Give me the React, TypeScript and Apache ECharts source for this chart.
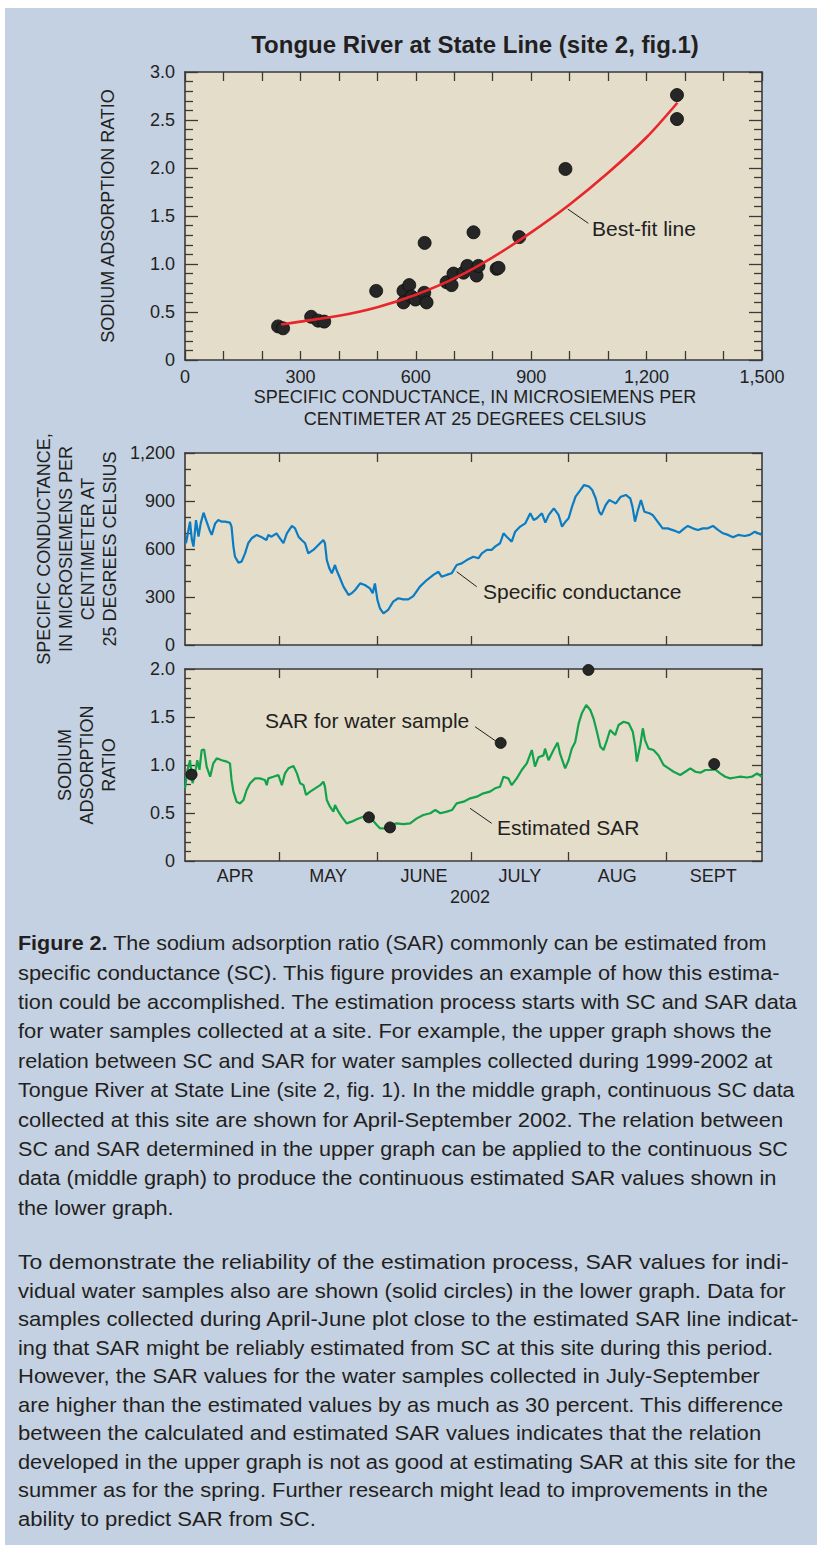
import React, { useEffect, useRef } from "react";
import * as echarts from "echarts";

// ---------- DATA ----------
// Upper graph: water samples 1999-2002 (specific conductance, SAR)
const SAMPLE_SC = [242, 255, 328, 346, 362, 497, 568, 568, 583, 589, 599, 622, 623, 628, 680, 693, 698, 724, 734, 750, 758, 763, 810, 815, 869, 989, 1279, 1279];
const SAMPLE_SAR = [0.35, 0.33, 0.45, 0.41, 0.4, 0.72, 0.72, 0.6, 0.78, 0.66, 0.63, 0.7, 1.22, 0.6, 0.81, 0.78, 0.9, 0.91, 0.98, 1.33, 0.88, 0.98, 0.95, 0.96, 1.28, 1.99, 2.76, 2.51];
// Best-fit line
const FIT_SC = [250, 300, 400, 500, 600, 700, 800, 900, 1000, 1100, 1200, 1280];
const FIT_SAR = [0.37, 0.4, 0.46, 0.55, 0.68, 0.85, 1.07, 1.33, 1.62, 1.95, 2.32, 2.68];

// Middle graph: continuous specific conductance, days since April 1, 2002
const SC_DAYS = [0.3, 1.1, 1.6, 2.2, 2.7, 3.5, 4.3, 5.0, 5.9, 6.7, 7.8, 8.5, 9.6, 10.6, 11.7, 12.7, 14.3, 14.8, 15.4, 15.9, 17.0, 18.0, 19.1, 20.1, 21.2, 22.8, 24.4, 25.9, 26.5, 27.5, 29.1, 30.2, 31.3, 32.4, 34.0, 35.0, 36.1, 37.1, 38.2, 39.2, 40.8, 42.4, 44.0, 44.5, 45.1, 45.9, 46.7, 47.7, 48.2, 49.3, 50.4, 52.0, 53.0, 54.1, 55.7, 57.2, 58.8, 59.7, 60.4, 61.2, 62.0, 63.1, 64.6, 66.2, 67.8, 69.4, 71.0, 72.6, 74.7, 76.9, 79.0, 80.6, 81.6, 83.2, 84.8, 86.4, 88.0, 89.6, 91.7, 93.3, 94.4, 96.0, 97.5, 98.6, 100.2, 101.3, 102.3, 103.9, 105.0, 106.6, 108.2, 109.8, 110.9, 111.9, 113.5, 114.6, 115.7, 117.3, 118.8, 119.9, 121.0, 122.0, 123.1, 124.2, 125.8, 126.9, 128.5, 129.5, 130.6, 131.7, 132.4, 133.8, 134.9, 135.9, 137.0, 138.6, 140.2, 141.6, 142.3, 143.1, 143.9, 145.0, 146.1, 147.7, 148.7, 150.3, 151.9, 153.5, 155.6, 157.2, 158.8, 159.9, 161.5, 163.1, 164.7, 166.3, 167.9, 169.5, 171.1, 172.7, 174.3, 175.9, 178.0, 179.6, 181.2, 182.3, 183.5];
const SC_VALUES = [636, 719, 771, 656, 615, 781, 677, 760, 827, 781, 719, 688, 760, 781, 771, 771, 765, 740, 615, 552, 515, 521, 573, 636, 667, 688, 673, 656, 688, 677, 698, 667, 636, 698, 744, 729, 677, 656, 636, 573, 594, 625, 656, 636, 531, 479, 448, 500, 469, 417, 365, 313, 323, 344, 385, 375, 354, 323, 385, 281, 229, 198, 219, 271, 292, 285, 285, 306, 365, 406, 438, 458, 427, 438, 448, 500, 510, 531, 552, 542, 573, 594, 594, 615, 636, 698, 677, 646, 708, 740, 760, 823, 781, 792, 823, 765, 813, 854, 813, 740, 771, 792, 865, 927, 969, 1000, 990, 969, 917, 833, 813, 875, 906, 896, 885, 927, 938, 917, 865, 771, 833, 906, 833, 823, 813, 771, 729, 729, 715, 702, 729, 744, 729, 719, 729, 729, 744, 719, 698, 688, 673, 688, 681, 688, 708, 698, 688];

// Lower graph: estimated SAR, days since April 1, 2002
const EST_DAYS = [0, 0.8, 1.6, 2.4, 3.2, 3.9, 4.6, 5.3, 6.1, 6.9, 8.0, 9.0, 10.1, 11.7, 13.3, 14.3, 14.8, 15.4, 16.4, 17.5, 18.6, 19.6, 20.7, 22.3, 23.8, 25.4, 26.0, 26.5, 28.1, 29.7, 30.8, 31.8, 32.9, 34.5, 35.6, 36.6, 37.7, 38.5, 39.8, 41.4, 43.0, 44.0, 44.5, 45.1, 46.1, 47.2, 47.7, 48.8, 49.8, 51.4, 53.0, 54.6, 56.7, 57.8, 59.4, 61.0, 62.0, 63.6, 65.2, 67.3, 69.4, 71.6, 73.7, 75.8, 78.0, 79.6, 81.2, 83.3, 84.9, 86.4, 88.6, 90.7, 92.8, 94.9, 97.0, 98.6, 100.2, 101.3, 102.8, 103.9, 105.5, 107.1, 108.7, 110.3, 111.3, 112.4, 114.0, 114.5, 115.6, 117.2, 118.5, 119.3, 120.9, 122.0, 123.0, 124.1, 125.2, 126.2, 127.6, 128.9, 129.9, 131.0, 132.1, 133.1, 134.2, 135.2, 136.8, 137.9, 139.5, 141.1, 142.4, 143.2, 143.7, 144.8, 145.6, 146.3, 147.4, 149.0, 150.6, 152.2, 153.8, 155.4, 157.5, 159.1, 160.7, 162.3, 163.9, 165.5, 167.0, 168.6, 170.2, 171.8, 173.4, 175.0, 176.6, 178.7, 180.3, 181.9, 183.5];
const EST_SAR = [0.757, 0.948, 1.05, 0.81, 0.91, 1.05, 0.95, 1.156, 1.16, 0.98, 0.878, 1.017, 1.07, 1.05, 1.035, 1.017, 0.844, 0.722, 0.618, 0.6, 0.635, 0.74, 0.81, 0.861, 0.861, 0.844, 0.79, 0.861, 0.878, 0.896, 0.79, 0.913, 0.965, 0.99, 0.913, 0.81, 0.79, 0.688, 0.722, 0.757, 0.79, 0.826, 0.774, 0.635, 0.566, 0.514, 0.583, 0.514, 0.462, 0.392, 0.41, 0.434, 0.462, 0.462, 0.434, 0.375, 0.34, 0.34, 0.375, 0.392, 0.385, 0.392, 0.444, 0.479, 0.497, 0.531, 0.497, 0.514, 0.531, 0.6, 0.618, 0.653, 0.67, 0.705, 0.722, 0.757, 0.774, 0.878, 0.861, 0.79, 0.861, 0.948, 1.017, 1.156, 0.983, 1.08, 1.1, 1.17, 1.05, 1.156, 1.233, 1.115, 0.965, 1.05, 1.17, 1.24, 1.434, 1.538, 1.625, 1.573, 1.486, 1.347, 1.19, 1.156, 1.26, 1.365, 1.312, 1.417, 1.451, 1.434, 1.347, 1.19, 1.035, 1.208, 1.382, 1.26, 1.17, 1.156, 1.1, 1.0, 0.965, 0.93, 0.896, 0.93, 0.965, 0.93, 0.92, 0.948, 0.948, 0.955, 0.913, 0.878, 0.861, 0.87, 0.878, 0.87, 0.878, 0.913, 0.878];

// Lower graph: SAR for individual water samples
const WS_DAYS = [2.1, 58.5, 65.2, 100.4, 128.3, 168.3];
const WS_SAR = [0.9, 0.455, 0.35, 1.23, 1.99, 1.01];

// Axis ticks / labels
const TOP_Y_MAX = 3;
const TOP_X_MAX = 1500;
const SC_Y_MAX = 1200;
const SAR_Y_MAX = 2;
const MONTH_STARTS = [0, 30, 61, 91, 122, 153, 183];
const MONTH_LABELS = ["APR", "MAY", "JUNE", "JULY", "AUG", "SEPT"];
const DAY_MAX = 183.5;

const TITLE = "Tongue River at State Line (site 2, fig.1)";
const CAPTION_BOLD = "Figure 2.";
const CAPTION_P1 = [
  " The sodium adsorption ratio (SAR) commonly can be estimated from",
  "specific conductance (SC). This figure provides an example of how this estima-",
  "tion could be accomplished. The estimation process starts with SC and SAR data",
  "for water samples collected at a site. For example, the upper graph shows the",
  "relation between SC and SAR for water samples collected during 1999-2002 at",
  "Tongue River at State Line (site 2, fig. 1). In the middle graph, continuous SC data",
  "collected at this site are shown for April-September 2002. The relation between",
  "SC and SAR determined in the upper graph can be applied to the continuous SC",
  "data (middle graph) to produce the continuous estimated SAR values shown in",
  "the lower graph.",
];
const CAPTION_P2 = [
  "To demonstrate the reliability of the estimation process, SAR values for indi-",
  "vidual water samples also are shown (solid circles) in the lower graph. Data for",
  "samples collected during April-June plot close to the estimated SAR line indicat-",
  "ing that SAR might be reliably estimated from SC at this site during this period.",
  "However, the SAR values for the water samples collected in July-September",
  "are higher than the estimated values by as much as 30 percent. This difference",
  "between the calculated and estimated SAR values indicates that the relation",
  "developed in the upper graph is not as good at estimating SAR at this site for the",
  "summer as for the spring. Further research might lead to improvements in the",
  "ability to predict SAR from SC.",
];

// ---------- STYLE / LAYOUT ----------
const W = 817;
const H = 1545;
const INK = "#231f20";
const AXIS = "#3b3838";
const PANEL = "#c4d1e2";
const PLOT_BG = "#e4ddca";
const SANS = "'Liberation Sans', Arial, Helvetica, sans-serif";
const BODY = "'Liberation Sans', Arial, sans-serif";
const GRID_LEFT = 185;
const GRID_W = 577;

const P1_RIGHT = [767, 781, 798, 772, 773, 795, 785, 788, 777, 0];
const P2_RIGHT = [789, 786, 800, 774, 760, 784, 762, 797, 768, 0];

let measureCtx: CanvasRenderingContext2D | null = null;
function measure(text: string, font: string): number {
  if (!measureCtx) measureCtx = document.createElement("canvas").getContext("2d");
  measureCtx!.font = font;
  return measureCtx!.measureText(text).width;
}

function captionElements(): any[] {
  const els: any[] = [];
  const x0 = 18;
  const fs = 20;
  const fontN = `${fs}px ${BODY}`;
  const fontB = `bold ${fs}px ${BODY}`;
  const build = (lines: string[], rights: number[], y0: number, step: number, boldFirst: boolean) => {
    const widths = lines.map((t, i) =>
      i === 0 && boldFirst ? measure(CAPTION_BOLD, fontB) + measure(t, fontN) : measure(t, fontN)
    );
    const scales = widths.map((w, i) => (rights[i] ? (rights[i] - x0) / w : 0));
    const valid = scales.filter((s) => s > 0);
    const avg = valid.reduce((a, b) => a + b, 0) / valid.length;
    lines.forEach((t, i) => {
      const isRich = i === 0 && boldFirst;
      els.push({
        type: "text",
        x: x0,
        y: y0 + step * i,
        scaleX: scales[i] || avg,
        z: 100,
        style: {
          text: isRich ? `{b|${CAPTION_BOLD}}{n|${t}}` : t,
          fill: INK,
          fontSize: fs,
          fontFamily: BODY,
          align: "left",
          verticalAlign: "middle",
          rich: isRich
            ? {
                b: { fontWeight: "bold", fontSize: fs, fontFamily: BODY, fill: INK },
                n: { fontSize: fs, fontFamily: BODY, fill: INK },
              }
            : undefined,
        },
      });
    });
  };
  build(CAPTION_P1, P1_RIGHT, 943, 29.4, true);
  build(CAPTION_P2, P2_RIGHT, 1262, 28.5, false);
  return els;
}

function text(x: number, y: number, t: string, extra: any = {}, rot = 0): any {
  return {
    type: "text",
    x,
    y,
    rotation: rot,
    z: 100,
    style: {
      text: t,
      fill: INK,
      fontSize: 18,
      fontFamily: SANS,
      align: "center",
      verticalAlign: "middle",
      ...extra,
    },
  };
}

function leader(x1: number, y1: number, x2: number, y2: number): any {
  return {
    type: "line",
    z: 100,
    shape: { x1, y1, x2, y2 },
    style: { stroke: INK, lineWidth: 1 },
  };
}

const AL = { show: true, onZero: false, lineStyle: { color: AXIS, width: 1.6 } };
const TL = { color: AXIS, width: 1.3 };
const LABEL = { color: INK, fontSize: 18, fontFamily: SANS };

function xVal(grid: number, pos: string, max: number, interval: number, split: number, showLabel: boolean, fmt?: any): any {
  return {
    gridIndex: grid,
    type: "value",
    position: pos,
    min: 0,
    max,
    interval,
    axisLine: AL,
    axisTick: { show: true, inside: true, length: 9, lineStyle: TL },
    minorTick: { show: true, splitNumber: split, length: 9, lineStyle: TL },
    axisLabel: showLabel ? { ...LABEL, margin: 8, formatter: fmt } : { show: false },
    splitLine: { show: false },
  };
}

function xTime(grid: number, pos: string, showLabel: boolean): any {
  const mids = MONTH_STARTS.slice(0, -1).map((s, i) => (s + MONTH_STARTS[i + 1]) / 2 + (i === 0 ? 1 : 0));
  return {
    gridIndex: grid,
    type: "value",
    position: pos,
    min: 0,
    max: DAY_MAX,
    axisLine: AL,
    axisTick: { show: true, inside: true, length: 9, lineStyle: TL, customValues: MONTH_STARTS.slice(1, -1) },
    axisLabel: showLabel
      ? {
          ...LABEL,
          margin: 6,
          customValues: mids,
          formatter: (v: number) => MONTH_LABELS[mids.indexOf(v)] ?? "",
        }
      : { show: false },
    splitLine: { show: false },
  };
}

function yVal(grid: number, pos: string, max: number, interval: number, split: number, majorLen: number, minorLen: number, showLabel: boolean, fmt?: any): any {
  return {
    gridIndex: grid,
    type: "value",
    position: pos,
    min: 0,
    max,
    interval,
    axisLine: AL,
    axisTick: { show: true, inside: true, length: majorLen, lineStyle: TL },
    minorTick: { show: true, splitNumber: split, length: minorLen, lineStyle: TL },
    axisLabel: showLabel ? { ...LABEL, margin: 10, formatter: fmt } : { show: false },
    splitLine: { show: false },
  };
}

const fmtRatio = (v: number) => (v === 0 ? "0" : v.toFixed(1));
const fmtThousands = (v: number) => v.toLocaleString("en-US");
const DOT_STYLE = { color: "#262626", borderColor: "#0d0d0d", borderWidth: 0.8, opacity: 1 };

function buildOption(): any {
  return {
    animation: false,
    backgroundColor: PANEL,
    textStyle: { fontFamily: SANS },
    grid: [
      { left: GRID_LEFT, top: 72, width: GRID_W, height: 288, show: true, backgroundColor: PLOT_BG, borderWidth: 0 },
      { left: GRID_LEFT, top: 453, width: GRID_W, height: 192, show: true, backgroundColor: PLOT_BG, borderWidth: 0 },
      { left: GRID_LEFT, top: 669, width: GRID_W, height: 192, show: true, backgroundColor: PLOT_BG, borderWidth: 0 },
    ],
    xAxis: [
      xVal(0, "bottom", TOP_X_MAX, 300, 3, true, fmtThousands),
      xVal(0, "top", TOP_X_MAX, 300, 3, false),
      xTime(1, "bottom", false),
      xTime(1, "top", false),
      xTime(2, "bottom", true),
      xTime(2, "top", false),
    ],
    yAxis: [
      yVal(0, "left", TOP_Y_MAX, 0.5, 5, 13, 8, true, fmtRatio),
      yVal(0, "right", TOP_Y_MAX, 0.5, 5, 13, 8, false),
      yVal(1, "left", SC_Y_MAX, 300, 3, 10, 6, true, fmtThousands),
      yVal(1, "right", SC_Y_MAX, 300, 3, 10, 6, false),
      yVal(2, "left", SAR_Y_MAX, 0.5, 5, 10, 6, true, fmtRatio),
      yVal(2, "right", SAR_Y_MAX, 0.5, 5, 10, 6, false),
    ],
    series: [
      {
        type: "scatter",
        xAxisIndex: 0,
        yAxisIndex: 0,
        data: SAMPLE_SC.map((x, i) => [x, SAMPLE_SAR[i]]),
        symbol: "circle",
        symbolSize: 13,
        itemStyle: DOT_STYLE,
        z: 3,
      },
      {
        type: "line",
        xAxisIndex: 0,
        yAxisIndex: 0,
        data: FIT_SC.map((x, i) => [x, FIT_SAR[i]]),
        smooth: 0.3,
        showSymbol: false,
        lineStyle: { color: "#e8262b", width: 2.6 },
        z: 4,
      },
      {
        type: "line",
        xAxisIndex: 2,
        yAxisIndex: 2,
        data: SC_DAYS.map((d, i) => [d, SC_VALUES[i]]),
        showSymbol: false,
        lineStyle: { color: "#0a7cc4", width: 2.2 },
        z: 3,
      },
      {
        type: "line",
        xAxisIndex: 4,
        yAxisIndex: 4,
        data: EST_DAYS.map((d, i) => [d, EST_SAR[i]]),
        showSymbol: false,
        lineStyle: { color: "#13a24c", width: 2.2 },
        z: 3,
      },
      {
        type: "scatter",
        xAxisIndex: 4,
        yAxisIndex: 4,
        data: WS_DAYS.map((d, i) => [d, WS_SAR[i]]),
        symbol: "circle",
        symbolSize: 11,
        clip: false,
        itemStyle: DOT_STYLE,
        z: 5,
      },
    ],
    graphic: {
      elements: [
        { type: "rect", z: 90, shape: { x: 0, y: 0, width: W, height: 8 }, style: { fill: "#ffffff" } },
        { type: "rect", z: 90, shape: { x: 0, y: 0, width: 5, height: H }, style: { fill: "#ffffff" } },
        text(475, 44, TITLE, { fontSize: 24, fontWeight: "bold" }),
        text(108, 216, "SODIUM ADSORPTION RATIO", {}, Math.PI / 2),
        text(475, 408, "SPECIFIC CONDUCTANCE, IN MICROSIEMENS PER\nCENTIMETER AT 25 DEGREES CELSIUS", { lineHeight: 22 }),
        text(76.5, 549, "SPECIFIC CONDUCTANCE,\nIN MICROSIEMENS PER\nCENTIMETER AT\n25 DEGREES CELSIUS", { lineHeight: 22 }, Math.PI / 2),
        text(87, 765, "SODIUM\nADSORPTION\nRATIO", { lineHeight: 22 }, Math.PI / 2),
        text(470, 897, "2002"),
        text(592, 228, "Best-fit line", { fontSize: 21, align: "left" }),
        leader(567.7, 209, 588.3, 223.3),
        text(483, 591, "Specific conductance", { fontSize: 21, align: "left" }),
        leader(456.7, 571.7, 476.7, 586.7),
        text(265, 720, "SAR for water sample", { fontSize: 21, align: "left" }),
        leader(475, 726.7, 496.7, 741.7),
        text(497, 827, "Estimated SAR", { fontSize: 21, align: "left" }),
        leader(470, 808.3, 491.7, 823.3),
        ...captionElements(),
      ],
    },
  };
}

export default function App() {
  const ref = useRef<HTMLDivElement>(null);
  useEffect(() => {
    const chart = echarts.init(ref.current!, undefined, { renderer: "svg", width: W, height: H });
    chart.setOption(buildOption());
    return () => chart.dispose();
  }, []);
  return (
    <div
      ref={ref}
      style={{ position: "absolute", left: 0, top: 0, width: W, height: H, background: "#ffffff" }}
    />
  );
}
